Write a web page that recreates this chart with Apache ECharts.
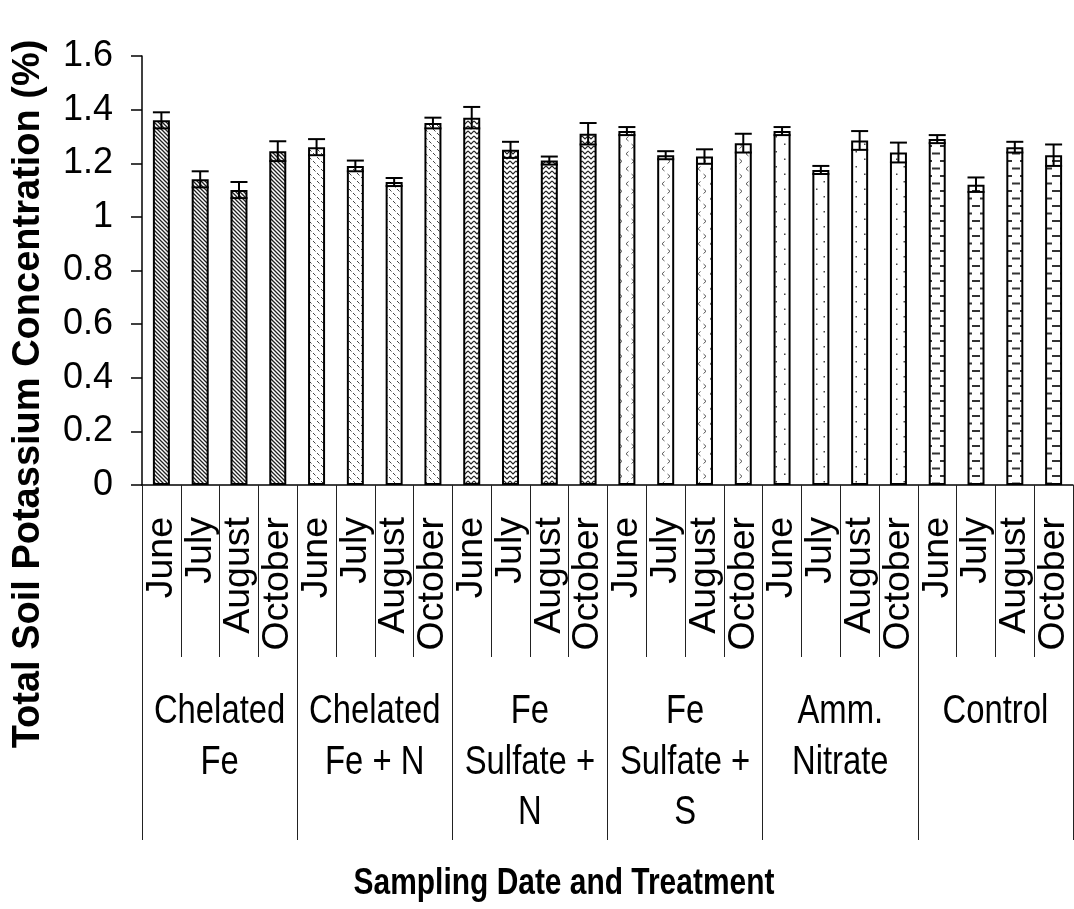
<!DOCTYPE html>
<html>
<head>
<meta charset="utf-8">
<script src="https://cdn.jsdelivr.net/npm/echarts@6/dist/echarts.min.js"></script>
<style>
html,body{margin:0;padding:0;background:#fff;}
#chart{width:1074px;height:909px;}
</style>
</head>
<body>
<div id="chart"></div>
<script>
// ---- data ----
const months = ['June', 'July', 'August', 'October'];
const treatments = ['Chelated\nFe', 'Chelated\nFe + N', 'Fe\nSulfate +\nN', 'Fe\nSulfate +\nS', 'Amm.\nNitrate', 'Control'];
const values = [1.36, 1.14, 1.10, 1.245, 1.26, 1.19, 1.13, 1.35, 1.37, 1.25, 1.21, 1.31, 1.32, 1.23, 1.225, 1.275, 1.32, 1.175, 1.285, 1.24, 1.29, 1.12, 1.26, 1.23];
const errors = [0.03, 0.03, 0.03, 0.037, 0.03, 0.02, 0.015, 0.02, 0.04, 0.03, 0.015, 0.04, 0.015, 0.015, 0.027, 0.035, 0.015, 0.015, 0.035, 0.037, 0.015, 0.027, 0.02, 0.04];
const yTicks = { min: 0, max: 1.6, interval: 0.2 };
const yTitle = 'Total Soil Potassium Concentration (%)';
const xTitle = 'Sampling Date and Treatment';

// ---- build categories ----
const categories = [];
treatments.forEach(() => months.forEach(m => categories.push(m)));

// ---- fill patterns ----
function tile(w, h, draw) {
  const c = document.createElement('canvas');
  c.width = w; c.height = h;
  const g = c.getContext('2d');
  g.fillStyle = '#fff'; g.fillRect(0, 0, w, h);
  g.strokeStyle = '#333'; g.fillStyle = '#333'; g.lineWidth = 1;
  draw(g);
  return { image: c, repeat: 'repeat' };
}
const patterns = [
  tile(4, 4, g => { g.strokeStyle = '#222'; g.lineWidth = 1.3; g.beginPath(); g.moveTo(-1, -1); g.lineTo(5, 5); g.moveTo(3, -1); g.lineTo(5, 1); g.moveTo(-1, 3); g.lineTo(1, 5); g.stroke(); }),
  tile(8, 8, g => { g.strokeStyle = '#444'; g.beginPath(); g.moveTo(1, 1); g.lineTo(3.5, 3.5); g.moveTo(5, 5); g.lineTo(7.5, 7.5); g.stroke(); }),
  tile(6, 5, g => { g.strokeStyle = '#222'; g.lineWidth = 1.2; g.beginPath(); g.moveTo(0, 1); g.lineTo(3, 4); g.lineTo(6, 1); g.stroke(); }),
  tile(12, 15, g => { g.strokeStyle = '#555'; g.beginPath(); g.moveTo(4.5, 1.5); g.lineTo(2, 3.8); g.lineTo(4.5, 6); g.moveTo(7.5, 9); g.lineTo(10, 11.3); g.lineTo(7.5, 13.5); g.stroke(); }),
  tile(16, 15, g => { g.fillStyle = '#444'; g.fillRect(7.5, 1, 1.5, 1.5); g.fillRect(0, 8.5, 1.5, 1.5); }),
  tile(16, 15, g => { g.strokeStyle = '#333'; g.lineWidth = 1.8; g.beginPath(); g.moveTo(4, 3.5); g.lineTo(12, 3.5); g.moveTo(12, 11); g.lineTo(16, 11); g.moveTo(0, 11); g.lineTo(4, 11); g.stroke(); })
];

const SANS = "'Liberation Sans', Arial, sans-serif";
const NARROW_SCALE = 0.82; // horizontal text in the original is condensed

const barData = values.map((v, i) => ({
  value: v,
  itemStyle: { color: patterns[Math.floor(i / months.length)] }
}));
const errData = values.map((v, i) => [i, v, errors[i]]);

const chart = echarts.init(document.getElementById('chart'), null, { renderer: 'canvas' });
chart.setOption({
  animation: false,
  backgroundColor: '#fff',
  grid: { left: 142, right: 1, top: 56, bottom: 424, containLabel: false },
  xAxis: [
    {
      type: 'category', data: categories, position: 'bottom',
      axisLine: { show: true, lineStyle: { color: '#000', width: 1.5 } },
      axisTick: { show: true, interval: 0, length: 172, lineStyle: { color: '#222', width: 1 } },
      axisLabel: { interval: 0, rotate: 90, margin: 32, color: '#000', fontFamily: SANS, fontSize: 37.5 }
    },
    {
      type: 'category', data: treatments, position: 'bottom',
      axisLine: { show: false },
      axisTick: { show: true, interval: 0, length: 355, lineStyle: { color: '#222', width: 1 } },
      axisLabel: { show: false }
    }
  ],
  yAxis: {
    type: 'value', min: yTicks.min, max: yTicks.max, interval: yTicks.interval,
    axisLine: { show: true, lineStyle: { color: '#000', width: 1.5 } },
    axisTick: { show: true, length: 11, lineStyle: { color: '#000', width: 1.5 } },
    axisLabel: { margin: 29, color: '#000', fontFamily: SANS, fontSize: 36, padding: [6, 0, 0, 0] },
    splitLine: { show: false }
  },
  series: [
    {
      type: 'bar', data: barData, barWidth: 17, xAxisIndex: 0,
      itemStyle: { borderColor: '#000', borderWidth: 2 }
    },
    {
      type: 'custom', xAxisIndex: 0, yAxisIndex: 0, z: 10, data: errData,
      encode: { x: 0, y: 1 },
      renderItem: function (params, api) {
        const i = api.value(0), v = api.value(1), e = api.value(2);
        const top = api.coord([i, v + e]);
        const bot = api.coord([i, v - e]);
        const hw = 8.5;
        const st = { stroke: '#000', lineWidth: 2 };
        return {
          type: 'group',
          children: [
            { type: 'line', shape: { x1: top[0], y1: top[1], x2: bot[0], y2: bot[1] }, style: st },
            { type: 'line', shape: { x1: top[0] - hw, y1: top[1], x2: top[0] + hw, y2: top[1] }, style: st },
            { type: 'line', shape: { x1: bot[0] - hw, y1: bot[1], x2: bot[0] + hw, y2: bot[1] }, style: st }
          ]
        };
      }
    }
  ]
});

// ---- condensed group labels and titles, placed through the axes' own scales ----
const axisY = chart.convertToPixel({ yAxisIndex: 0 }, 0);
const graphics = treatments.map((t, k) => ({
  type: 'text',
  x: chart.convertToPixel({ xAxisIndex: 1 }, k),
  y: axisY + 202,
  scaleX: NARROW_SCALE,
  style: { text: t, fill: '#000', font: '40px ' + SANS, lineHeight: 50.5, textAlign: 'center', textVerticalAlign: 'top' }
}));
graphics.push({
  type: 'text', x: 29, y: 394, rotation: Math.PI / 2,
  style: { text: yTitle, fill: '#000', font: 'bold 38px ' + SANS, textAlign: 'center', textVerticalAlign: 'middle' }
});
graphics.push({
  type: 'text', x: 564, y: 884, scaleX: NARROW_SCALE,
  style: { text: xTitle, fill: '#000', font: 'bold 36.5px ' + SANS, textAlign: 'center', textVerticalAlign: 'middle' }
});
chart.setOption({ graphic: graphics });
</script>
</body>
</html>
